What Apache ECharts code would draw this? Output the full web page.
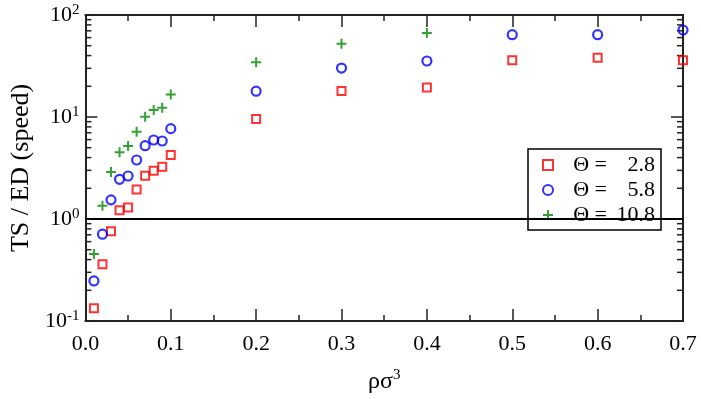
<!DOCTYPE html>
<html>
<head>
<meta charset="utf-8">
<script src="https://cdn.jsdelivr.net/npm/echarts@6/dist/echarts.min.js"></script>
<style>
  html, body { margin: 0; padding: 0; background: #fff; }
  #chart { width: 701px; height: 399px; }
</style>
</head>
<body>
<div id="chart"></div>
<script>
// densities (x) and speed ratios (y)
const rhoLow = [0.01, 0.02, 0.03, 0.04, 0.05, 0.06, 0.07, 0.08, 0.09, 0.1];
const rhoHigh = [0.2, 0.3, 0.4, 0.5, 0.6, 0.7];

const theta28 = [0.133, 0.36, 0.76, 1.22, 1.30, 1.95, 2.66, 2.98, 3.26, 4.24,
                 9.55, 18.0, 19.5, 36.0, 38.2, 36.0];
const theta58 = [0.247, 0.71, 1.54, 2.45, 2.64, 3.79, 5.23, 5.95, 5.82, 7.69,
                 17.9, 30.2, 35.4, 64.1, 64.1, 71.3];
const theta108 = [0.454, 1.35, 2.89, 4.51, 5.2, 7.18, 10.07, 11.7, 12.3, 16.6,
                  34.4, 52.3, 66.6];

const seriesNames = ['Θ = 2.8', 'Θ = 5.8', 'Θ = 10.8'];
const xTicks = [0, 0.1, 0.2, 0.3, 0.4, 0.5, 0.6, 0.7];
const yMinorTicks = [0.2, 0.3, 0.4, 0.5, 0.6, 0.7, 0.8, 0.9,
                     2, 3, 4, 5, 6, 7, 8, 9,
                     20, 30, 40, 50, 60, 70, 80, 90];

const rho = rhoLow.concat(rhoHigh);
const pairs = (ys) => ys.map((y, i) => [rho[i], y]);

const FONT = '"Liberation Serif", "DejaVu Serif", serif';
const AXIS = '#222';
const plus = 'path://M4,0H6V4H10V6H6V10H4V6H0V4H4Z';

const chart = echarts.init(document.getElementById('chart'));

function xAxisOf(pos, labels) {
  return {
    type: 'value', position: pos,
    min: xTicks[0], max: xTicks[xTicks.length - 1], interval: 0.1,
    axisLine: { show: true, onZero: false, lineStyle: { color: AXIS, width: 2 } },
    axisTick: { show: true, inside: true, length: 12, lineStyle: { color: AXIS, width: 1.5 } },
    minorTick: { show: true, splitNumber: 2, length: 6, lineStyle: { color: AXIS, width: 1.5 } },
    splitLine: { show: false },
    axisLabel: {
      show: labels, margin: 12, color: '#000',
      fontFamily: FONT, fontSize: 22,
      formatter: (v) => v.toFixed(1)
    }
  };
}

function yAxisOf(pos, labels) {
  return {
    type: 'log', logBase: 10, position: pos,
    min: 0.1, max: 100,
    axisLine: { show: true, onZero: false, lineStyle: { color: AXIS, width: 2 } },
    axisTick: { show: true, inside: true, length: 12, lineStyle: { color: AXIS, width: 1.5 } },
    splitLine: { show: false },
    axisLabel: {
      show: labels, margin: 6, color: '#000',
      formatter: (v) => '{b|10}{s|' + Math.round(Math.log10(v)) + '}',
      rich: {
        b: { fontFamily: FONT, fontSize: 22, color: '#000' },
        s: { fontFamily: FONT, fontSize: 15, color: '#000', verticalAlign: 'top', padding: [0, 0, 10, 0] }
      }
    }
  };
}

const option = {
  backgroundColor: '#fff',
  animation: false,
  grid: { left: 76, top: 15, right: 18, bottom: 78 },
  legend: {
    orient: 'vertical', left: 528, top: 149,
    padding: [5, 6, 4, 14],
    itemWidth: 10, itemHeight: 10, itemGap: 3,
    borderColor: '#000', borderWidth: 1.5, backgroundColor: '#fff',
    data: seriesNames,
    formatter: (name) => {
      const parts = name.split('= ');
      return '{a|Θ =}{n|' + parts[1] + '}';
    },
    textStyle: {
      lineHeight: 20,
      rich: {
        a: { fontFamily: FONT, fontSize: 22, color: '#000', width: 49, align: 'right', lineHeight: 20 },
        n: { fontFamily: FONT, fontSize: 22, color: '#000', width: 48, align: 'right', lineHeight: 20 }
      }
    }
  },
  xAxis: [
    Object.assign(xAxisOf('bottom', true), {
      name: '{a|ρσ}{s|3}', nameLocation: 'middle', nameGap: 47,
      nameTextStyle: {
        rich: {
          a: { fontFamily: FONT, fontSize: 24, color: '#000' },
          s: { fontFamily: FONT, fontSize: 15, color: '#000', verticalAlign: 'top', padding: [0, 0, 12, 0] }
        }
      }
    }),
    xAxisOf('top', false)
  ],
  yAxis: [
    Object.assign(yAxisOf('left', true), {
      name: 'TS / ED (speed)', nameLocation: 'middle', nameGap: 42,
      nameTextStyle: { fontFamily: FONT, fontSize: 26, color: '#000' }
    }),
    yAxisOf('right', false)
  ],
  series: [
    {
      name: seriesNames[0], type: 'scatter', data: pairs(theta28),
      symbol: 'rect', symbolSize: 8,
      itemStyle: { color: 'rgba(0,0,0,0)', borderColor: '#ff0000', borderWidth: 2 },
      markLine: {
        silent: true, symbol: 'none', label: { show: false },
        lineStyle: { color: '#000', width: 2, type: 'solid' },
        data: [{ yAxis: 1 }]
      }
    },
    {
      name: seriesNames[1], type: 'scatter', data: pairs(theta58),
      symbol: 'circle', symbolSize: 9,
      itemStyle: { color: 'rgba(0,0,0,0)', borderColor: '#0000ff', borderWidth: 2.2 }
    },
    {
      name: seriesNames[2], type: 'scatter', data: pairs(theta108),
      symbol: plus, symbolSize: 10,
      itemStyle: { color: '#008b00' }
    },
    {
      // minor log ticks on the left and right frame
      type: 'custom', silent: true, clip: false,
      data: yMinorTicks.map((v) => [xTicks[0], v]),
      renderItem: (params, api) => {
        const y = api.coord([xTicks[0], api.value(1)])[1];
        const x0 = params.coordSys.x;
        const x1 = x0 + params.coordSys.width;
        const style = { stroke: AXIS, lineWidth: 1.5 };
        return {
          type: 'group',
          children: [
            { type: 'line', shape: { x1: x0, y1: y, x2: x0 + 6, y2: y }, style: style },
            { type: 'line', shape: { x1: x1, y1: y, x2: x1 - 6, y2: y }, style: style }
          ]
        };
      }
    }
  ]
};

chart.setOption(option);
</script>
</body>
</html>
